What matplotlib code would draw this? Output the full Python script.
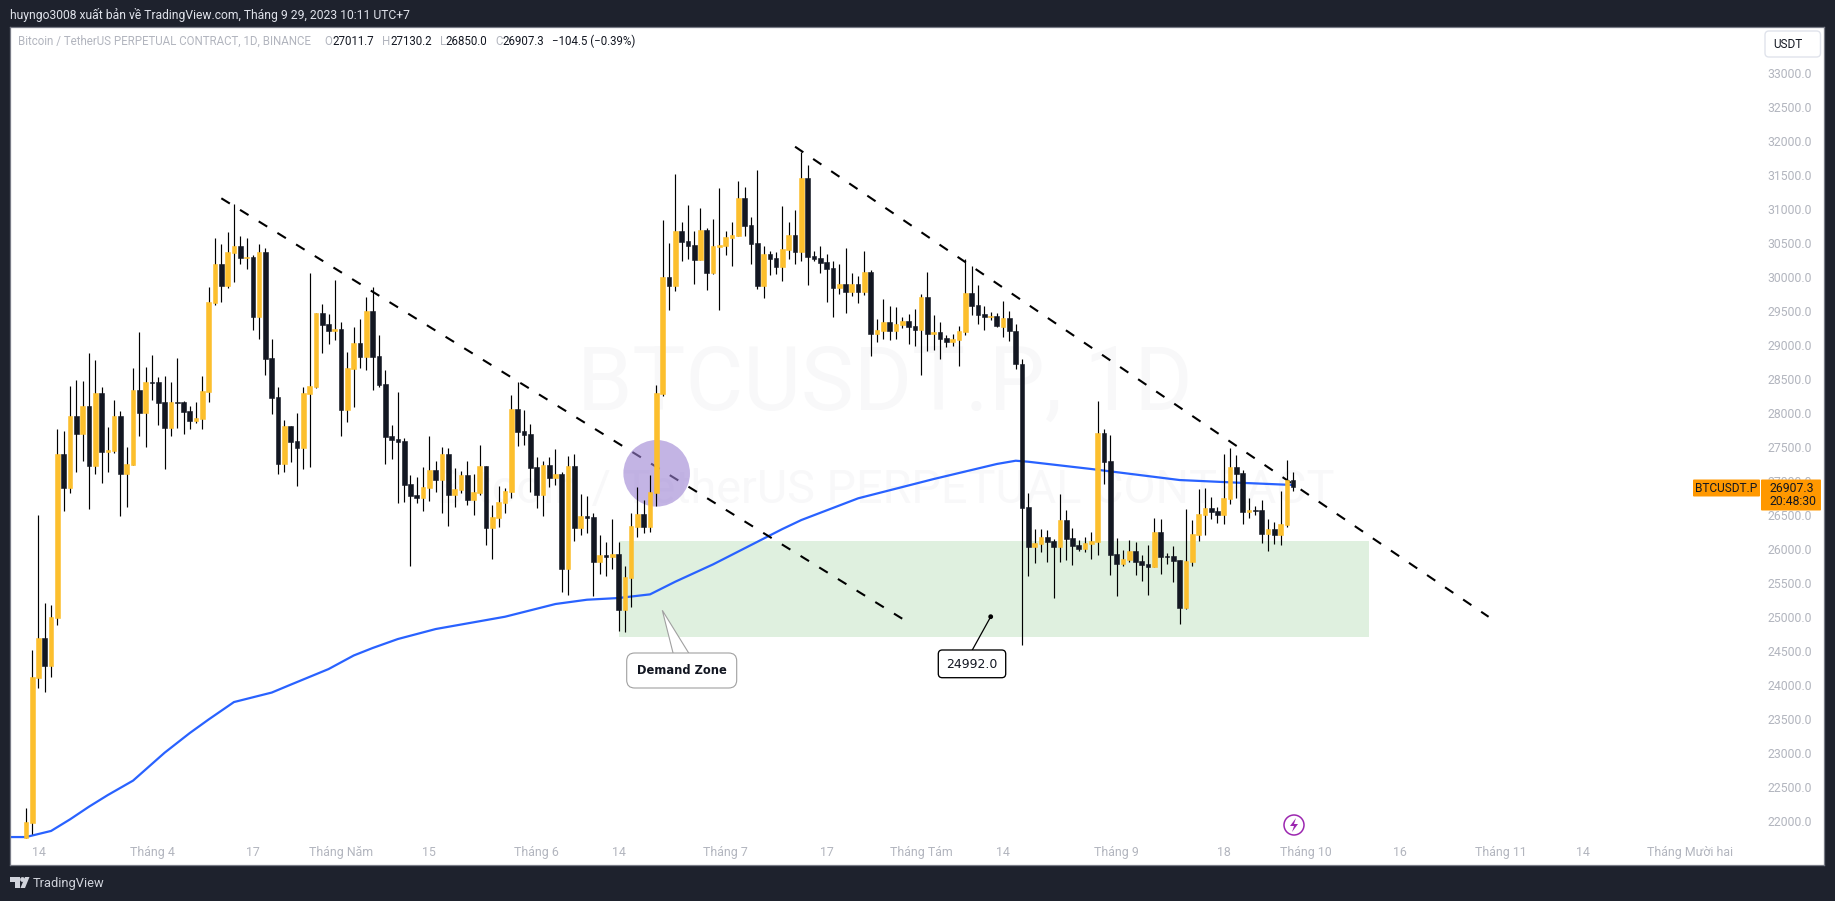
import matplotlib
matplotlib.use("Agg")
import matplotlib.pyplot as plt
from matplotlib.patches import Ellipse, FancyBboxPatch, Polygon, Rectangle, Circle
from matplotlib.transforms import Affine2D
import numpy as np
import pandas as pd

opens = [
    21750, 21971, 24103, 24686, 24275, 24981, 27392, 26893, 27951, 27687, 28098, 27216, 28290, 27422, 27437, 27951, 27098, 27231, 28334, 27995,
    28451, 28451, 28157, 27775, 28157, 28152, 28025, 27878, 27907, 28304, 29613, 30187, 29863, 30348, 30451, 30280, 30290, 29407, 30363, 28804, 28231, 27245, 27804, 27584, 27481, 28275, 28378, 29466, 29304, 29202,
    29231, 28040, 28643, 29025, 28819, 29496, 28834, 28422, 27658, 27613, 27584, 26952, 26790, 26746, 26893, 27158, 27011, 27393, 26790, 26863, 27084, 26716, 26819, 27216, 26305, 26452, 26672, 26834, 28055, 27731, 27687,
    27202, 26790, 27231, 27040, 27099, 25702, 27216, 26305, 26481, 26466, 25805, 25907, 25878, 25922, 25099, 25570, 26319, 26511, 26319, 26819, 28275, 29995, 29863, 30672, 30525, 30466, 30245, 30686, 30054, 30436,
    30451, 30569, 30598, 31157, 30760, 30495, 29863, 30333, 30275, 30142, 30392, 30613, 30363, 31451, 30304, 30275, 30216, 30128, 29833, 29892, 29775, 29892, 29775, 30069, 29157, 29201, 29333, 29201, 29289, 29348, 29275,
    29216, 29701, 29157, 29186, 29098, 29039, 29069, 29186, 29760, 29584, 29451, 29407, 29422, 29260, 29400, 29200, 28720, 26613, 26025, 26069, 26172, 26113, 26025, 26422, 26157, 26055, 25996, 26069, 26099, 27701, 27290,
    25922, 25775, 25834, 25966, 25819, 25775, 25731, 26246, 25895, 25893, 25834, 25128, 25804, 26201, 26496, 26599, 26555, 26496, 26731, 27202, 27113, 26540, 26565, 26569, 26216, 26290, 26201, 26349, 27011.7,
]
closes = [
    21981, 24113, 24686, 24275, 24995, 27392, 26893, 27951, 27687, 28098, 27216, 28290, 27422, 27451, 27951, 27098, 27245, 28334, 27995, 28451,
    28441, 28143, 27775, 28157, 28148, 28010, 27878, 27922, 28319, 29628, 30187, 29863, 30363, 30451, 30275, 30290, 29407, 30363, 28790, 28216, 27245, 27804, 27569, 27481, 28290, 28393, 29466, 29290, 29201, 29231,
    28040, 28658, 29025, 28819, 29496, 28819, 28408, 27643, 27599, 27569, 26937, 26775, 26746, 26908, 27158, 27011, 27393, 26790, 26878, 27084, 26716, 26834, 27216, 26305, 26466, 26687, 26849, 28055, 27716, 27672, 27187,
    26790, 27231, 27040, 27099, 25702, 27216, 26305, 26481, 26452, 25805, 25907, 25878, 25922, 25099, 25584, 26334, 26511, 26319, 26834, 28289, 29995, 29863, 30672, 30510, 30451, 30245, 30686, 30054, 30451, 30466,
    30583, 30613, 31157, 30745, 30480, 29863, 30333, 30260, 30142, 30407, 30613, 30363, 31451, 30289, 30260, 30201, 30113, 29833, 29892, 29775, 29892, 29775, 30069, 29157, 29216, 29333, 29201, 29304, 29348, 29260, 29216,
    29701, 29157, 29186, 29083, 29039, 29083, 29201, 29760, 29569, 29436, 29407, 29422, 29275, 29400, 29200, 28720, 26599, 26025, 26084, 26172, 26099, 26025, 26422, 26143, 26040, 25996, 26084, 26113, 27701, 27275, 25907,
    25775, 25849, 25966, 25804, 25760, 25731, 26246, 25878, 25885, 25819, 25128, 25819, 26216, 26510, 26599, 26540, 26496, 26746, 27202, 27099, 26540, 26569, 26550, 26216, 26290, 26201, 26363, 27010, 26907.3,
]
highs = [
    22182, 24510, 26495, 25196, 25172, 27760, 27731, 28393, 28481, 28466, 28878, 28775, 28378, 27790, 28187, 28025, 27495, 28657, 29187, 28672,
    28848, 28525, 28540, 28451, 28804, 28172, 28098, 28157, 28540, 29848, 30569, 30481, 30657, 31069, 30598, 30569, 30319, 30481, 30422, 29084, 28378, 27893, 27804, 27995, 28378, 30054, 29466, 29598, 29451, 29952,
    29329, 28893, 29260, 29378, 29702, 29849, 29143, 28628, 27819, 28305, 27628, 27084, 27055, 27202, 27658, 27290, 27496, 27481, 27187, 27143, 27290, 27099, 27525, 27216, 26643, 26922, 26893, 28260, 28452, 28040, 27834,
    27349, 27290, 27349, 27466, 27128, 27363, 27393, 26805, 26775, 26525, 26202, 26099, 26437, 26099, 25746, 26525, 26908, 26717, 27084, 28407, 30833, 30495, 31510, 30804, 31054, 30672, 31010, 30716, 30848, 31304,
    30672, 30804, 31407, 31319, 30878, 31569, 30451, 30378, 30363, 31039, 30804, 30981, 31833, 31642, 30378, 30451, 30333, 30230, 30186, 30422, 30054, 30010, 30378, 30098, 29378, 29672, 29569, 29554, 29407, 29451, 29525,
    29745, 30069, 29436, 29333, 29142, 29157, 29275, 30260, 30157, 29878, 29569, 29481, 29466, 29650, 29500, 29300, 28790, 26819, 26290, 26290, 26275, 26143, 26804, 26569, 26304, 26128, 26172, 26246, 28172, 27760, 27672,
    26157, 25981, 26128, 26099, 25907, 26055, 26452, 26437, 25937, 26040, 25834, 26584, 26422, 26878, 26893, 26760, 26613, 27393, 27481, 27378, 27157, 26746, 26628, 26716, 26437, 26392, 26849, 27305, 27130.2,
]
lows = [
    21750, 21804, 23951, 23897, 24118, 24878, 26559, 26824, 27128, 27290, 26584, 27098, 26966, 27128, 27407, 26481, 26613, 27231, 27657, 27495,
    28187, 27819, 27172, 27657, 27775, 27687, 27760, 27848, 27760, 28157, 29584, 29628, 29834, 29922, 30187, 30113, 29216, 29084, 28554, 27981, 27098, 27128, 27275, 26922, 27172, 27201, 28363, 28878, 29010, 29069,
    27658, 27863, 28084, 28658, 28628, 28334, 28378, 27246, 27319, 26672, 26687, 25746, 26672, 26555, 26702, 26834, 26525, 26334, 26613, 26819, 26643, 26496, 26790, 26054, 25849, 26319, 26525, 26746, 27510, 27525, 26834,
    26599, 26481, 26908, 26937, 25363, 25319, 26113, 26202, 26231, 25305, 25628, 25599, 25702, 24790, 24775, 25143, 26172, 26231, 26246, 26628, 28245, 29510, 29789, 30230, 30260, 29892, 30245, 29804, 30039, 29510,
    30319, 30157, 30598, 30598, 30186, 29819, 29686, 30025, 30039, 29936, 30260, 30186, 30230, 29878, 30230, 30054, 29628, 29407, 29745, 29466, 29716, 29613, 29730, 28833, 29039, 29083, 29069, 29083, 29245, 29010, 28980,
    28554, 28907, 28922, 28789, 28966, 28980, 28686, 29142, 29436, 29304, 29216, 29363, 29260, 29120, 29050, 28650, 24584, 25599, 25790, 25952, 25804, 25275, 25804, 25834, 25760, 25966, 25952, 25849, 25907, 26952, 25613,
    25304, 25746, 25804, 25613, 25525, 25319, 25731, 25628, 25775, 25510, 24893, 25113, 25746, 26113, 26201, 26437, 26378, 26363, 26657, 26746, 26363, 26451, 26496, 26084, 25966, 26069, 26055, 26319, 26850.0,
]

# moving average read at a number of days, counted from 14 March
ma_days = [-5, -2, 2, 5, 8, 11, 15, 20, 24, 27, 31, 34, 37, 40, 46, 50, 53, 57, 63, 74, 82, 87, 92, 97, 101, 107, 118, 121, 130, 142, 152, 155, 157, 167, 181, 189, 199]
ma_values = [21760, 21760, 21850, 22020, 22206, 22378, 22590, 23000, 23290, 23490, 23745, 23815, 23885, 24001, 24230, 24430, 24540, 24672, 24819, 25000, 25187, 25250, 25275, 25329, 25515, 25770, 26290, 26422, 26741, 27025, 27246, 27294, 27279, 27172, 27010, 26976, 26937]

tick_dates = ["2023-03-14", "2023-04-01", "2023-04-17", "2023-05-01", "2023-05-15", "2023-06-01", "2023-06-14", "2023-07-01", "2023-07-17",
              "2023-08-01", "2023-08-14", "2023-09-01", "2023-09-18", "2023-10-01", "2023-10-16", "2023-11-01", "2023-11-14", "2023-12-01"]
tick_labels = ["14", "Tháng 4", "17", "Tháng Năm", "15", "Tháng 6", "14", "Tháng 7", "17",
               "Tháng Tám", "14", "Tháng 9", "18", "Tháng 10", "16", "Tháng 11", "14", "Tháng Mười hai"]
price_ticks = list(range(22000, 33500, 500))

zone_top = 26115
zone_bottom = 24706
trend_prices_1 = [31153, 24971]
trend_prices_2 = [31912, 24999]

BG = "#1e222d"
GRAY = "#b2b5be"
UP = "#fcbf2d"
DOWN = "#131722"

W, H = 1835, 901
plt.rcParams["font.family"] = ["Roboto", "DejaVu Sans"]

fig = plt.figure(figsize=(W / 100, H / 100), dpi=100, facecolor=BG)
left, right, top, bottom = 10, 1824, 27, 865
ax = fig.add_axes([left / W, 1 - bottom / H, (right - left) / W, (bottom - top) / H])
ax.set_facecolor("white")

# pixel coordinates of the image, for the things TradingView pins to the screen
px = Affine2D().scale(1, -1).translate(0, H)

start = pd.Timestamp("2023-03-14")
days = np.arange(len(opens)) - 2


def dayOf(date):
    return (pd.Timestamp(date) - start).days


ax.set_xlim(-4.52, 283.2)
ax.set_ylim(21349, 33672)

ax.text(885, 385, "BTCUSDT.P, 1D", transform=px, fontsize=64, color="#f8f8f9", ha="center", va="center", zorder=0.1)
ax.text(885, 490, "Bitcoin / TetherUS PERPETUAL CONTRACT", transform=px, fontsize=33.7, color="#f8f8f9", ha="center", va="center", zorder=0.1)

ax.add_patch(Rectangle((dayOf("2023-06-14"), zone_bottom), dayOf("2023-10-11") - dayOf("2023-06-14"), zone_top - zone_bottom,
                       facecolor="#dff0df", edgecolor="none", zorder=0.5))

ax.plot(ma_days, ma_values, color="#2962ff", lw=1.6, zorder=1, solid_capstyle="round", solid_joinstyle="round")
ax.plot([dayOf("2023-04-12"), dayOf("2023-07-29")], trend_prices_1, color="black", lw=1.5, linestyle=(0, (4.8, 5.74)), zorder=1.2)
ax.plot([dayOf("2023-07-12"), dayOf("2023-10-30")], trend_prices_2, color="black", lw=1.5, linestyle=(0, (4.8, 5.67)), zorder=1.2)
ax.add_patch(Ellipse((98.05, 27109), 10.56, 979, facecolor="#9c82d3", alpha=0.6, edgecolor="none", zorder=1.4))

o = np.array(opens, dtype=float)
c = np.array(closes, dtype=float)
colors = [UP if c[i] >= o[i] else DOWN for i in range(len(o))]
ax.vlines(days, lows, highs, color="black", lw=0.85, zorder=2)
ax.bar(days, np.abs(c - o), bottom=np.minimum(o, c), width=0.74, color=colors, edgecolor=colors, linewidth=0.4, zorder=3)

ax.set_xticks([dayOf(d) for d in tick_dates])
ax.set_xticklabels(tick_labels)
ax.set_yticks(price_ticks)
ax.set_yticklabels(["%.1f" % p for p in price_ticks])
ax.yaxis.tick_right()
ax.tick_params(axis="x", length=0, pad=-14, labelsize=8.9, labelcolor=GRAY)
ax.tick_params(axis="y", length=0, pad=-41, labelsize=8.8, labelcolor=GRAY)
for spine in ax.spines.values():
    spine.set_color("#787b86")
    spine.set_linewidth(0.9)

# callouts
ax.add_patch(Polygon([(662.3, 610.3), (673.3, 654), (689.3, 654)], transform=px, facecolor="white", edgecolor="#a0a0a0", lw=0.8, zorder=4))
ax.add_patch(FancyBboxPatch((626.7, 653), 110, 35, boxstyle="round,pad=0,rounding_size=8", transform=px, facecolor="white", edgecolor="#a0a0a0", lw=0.8, zorder=4))
ax.add_patch(Polygon([(674, 654), (689, 654), (681, 656)], transform=px, facecolor="white", edgecolor="none", zorder=4.1))
ax.text(681.7, 670, "Demand Zone", transform=px, family="DejaVu Sans", fontweight="bold", fontsize=8.3, color="#131722", ha="center", va="center", zorder=5)

ax.plot([972.3, 990.7], [650, 616.7], transform=px, color="black", lw=0.9, zorder=4)
ax.add_patch(Circle((990.7, 616.7), 2.4, transform=px, facecolor="black", edgecolor="none", zorder=4))
ax.add_patch(FancyBboxPatch((938.3, 650), 67.4, 27.7, boxstyle="round,pad=0,rounding_size=4", transform=px, facecolor="white", edgecolor="black", lw=0.95, zorder=4))
ax.text(972, 664, "24992.0", transform=px, family="DejaVu Sans", fontsize=9, color="#131722", ha="center", va="center", zorder=5)

# lightning mark
ax.add_patch(Circle((1294, 825), 10, transform=px, facecolor="white", edgecolor="#9c27b0", lw=1.1, zorder=4))
ax.add_patch(Polygon([(1296, 818), (1290, 826), (1294, 826), (1292, 832), (1298, 824), (1294, 824)], transform=px, facecolor="#9c27b0", edgecolor="none", zorder=5))

# OHLC legend
ax.text(18, 41.7, "Bitcoin / TetherUS PERPETUAL CONTRACT, 1D, BINANCE", transform=px, fontsize=8.3, color=GRAY, va="center", zorder=6)
legend_items = [(324.5, "O", GRAY), (332.6, "27011.7", DOWN), (382, "H", GRAY), (390, "27130.2", DOWN), (439.6, "L", GRAY), (445.7, "26850.0", DOWN),
                (495, "C", GRAY), (502, "26907.3", DOWN), (551.8, "−104.5 (−0.39%)", DOWN)]
for x_pos, label, color in legend_items:
    ax.text(x_pos, 41.7, label, transform=px, fontsize=8.3, color=color, va="center", zorder=6)

# price scale furniture
ax.add_patch(FancyBboxPatch((1765, 31), 55.5, 26, boxstyle="round,pad=0,rounding_size=4", transform=px, facecolor="white", edgecolor="#e0e3eb", lw=1, zorder=6))
ax.text(1788, 44.5, "USDT", transform=px, fontsize=8.5, color=DOWN, ha="center", va="center", zorder=7)
ax.add_patch(FancyBboxPatch((1693, 479.5), 67, 17, boxstyle="round,pad=0,rounding_size=1", transform=px, facecolor="#ff9800", edgecolor="none", zorder=6))
ax.add_patch(FancyBboxPatch((1761, 479.5), 60, 31, boxstyle="round,pad=0,rounding_size=1", transform=px, facecolor="#ff9800", edgecolor="none", zorder=6))
ax.text(1726.5, 488, "BTCUSDT.P", transform=px, fontsize=8.6, color=DOWN, ha="center", va="center", zorder=7)
ax.text(1769, 488, "26907.3", transform=px, fontsize=8.8, color=DOWN, va="center", zorder=7)
ax.text(1769, 501.5, "20:48:30", transform=px, fontsize=8.8, color=DOWN, va="center", zorder=7)

# outer frame texts
fig.text(10 / W, 1 - 15 / H, "huyngo3008 xuất bản về TradingView.com, Tháng 9 29, 2023 10:11 UTC+7", fontsize=8.7, color="#e0e3eb", va="center")
fig.text(33 / W, 1 - 883 / H, "TradingView", fontsize=9.3, color="#d1d4dc", va="center")

logo = [
    Rectangle((10, 877), 10, 5, facecolor="#d1d4dc", edgecolor="none"),
    Rectangle((15, 877), 5, 11, facecolor="#d1d4dc", edgecolor="none"),
    Circle((22.5, 879.5), 2.4, facecolor="#d1d4dc", edgecolor="none"),
    Polygon([(25, 877), (29.5, 877), (25, 888), (20.5, 888)], facecolor="#d1d4dc", edgecolor="none"),
]
for shape in logo:
    shape.set_transform(px)
    fig.add_artist(shape)

fig.savefig("out.png", dpi=100, facecolor=BG)
